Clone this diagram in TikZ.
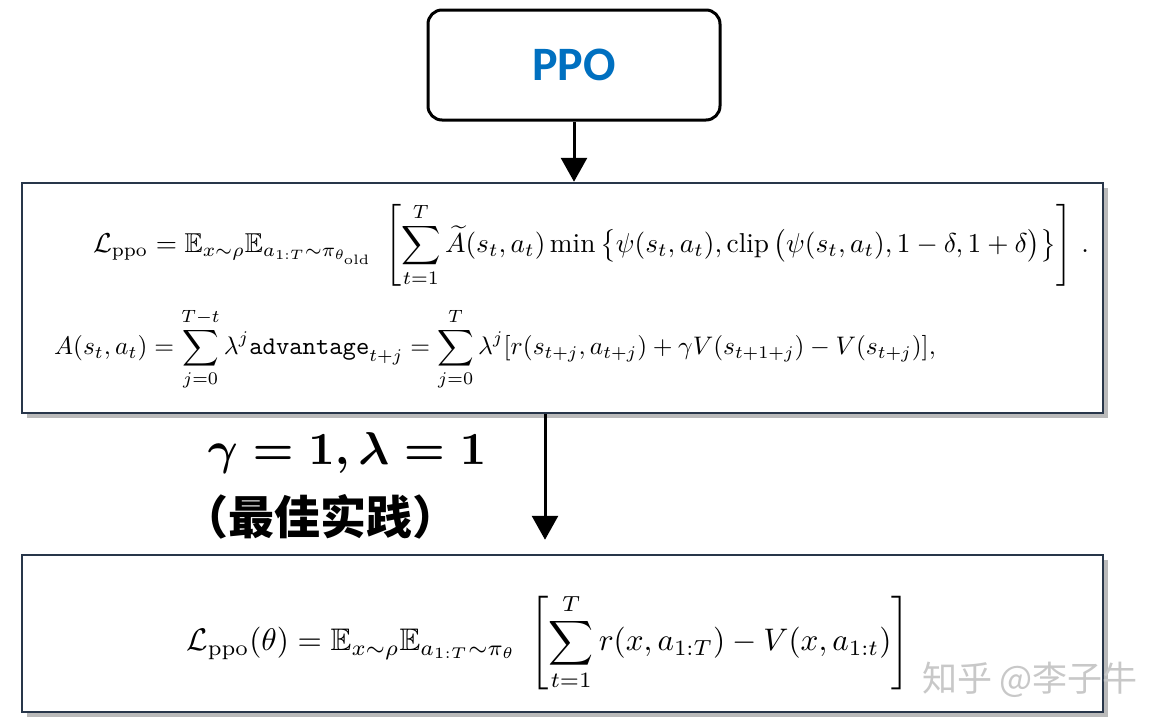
\documentclass[tikz,border=0pt]{standalone}
\usepackage{amsmath}
\usepackage{amssymb}
\usepackage{bm}
\usepackage{graphicx}
\usepackage{fontspec}
\newfontfamily\cjk{Noto Sans CJK SC}
\newfontfamily\ppofont{Carlito}
\usetikzlibrary{arrows.meta}
\usetikzlibrary{shadows}
\usetikzlibrary{positioning}
\definecolor{ppoblue}{RGB}{0,112,192}
\definecolor{boxline}{RGB}{40,54,74}
\definecolor{watermark}{RGB}{200,200,200}

\begin{document}
\begin{tikzpicture}[
            x = 1pt, y = -1pt, % pixel grid, y runs down
            > = {Triangle[width=26pt,length=24pt]}, % arrow head style
            line width = 3pt
        ]

        \tikzset{
            titlebox/.style = {draw = black, fill = white, rounded corners = 14pt,
                minimum width = 292pt, minimum height = 110pt, inner sep = 0pt},
            formulabox/.style = {draw = boxline, line width = 2.5pt, fill = white,
                minimum width = 1081pt, inner sep = 0pt,
                drop shadow = {shadow xshift = 5pt, shadow yshift = -5pt,
                    fill = black!45, opacity = .6}}
        }

        \useasboundingbox (0,0) rectangle (1168,728);

        % boxes
        \node[titlebox] (ppo) at (574,65)
            {\ppofont\bfseries\fontsize{48}{56}\selectfont\color{ppoblue}PPO};
        \node[formulabox, minimum height = 230pt] (loss) at (562.5,298) {};
        \node[formulabox, minimum height = 157pt] (simple) at (562.5,633.5) {};

        % full objective
        \node (lossppo) at (591,245) {\scalebox{2.73}{$\displaystyle
            \mathcal{L}_{\mathrm{ppo}} = \mathbb{E}_{x\sim\rho}\mathbb{E}_{a_{1:T}\sim\pi_{\theta_{\mathrm{old}}}}\;
            \left[\sum_{t=1}^{T}\widetilde{A}(s_t,a_t)\min\,\bigl\{\psi(s_t,a_t),\mathrm{clip}\,\bigl(\psi(s_t,a_t),1-\delta,1+\delta\bigr)\bigr\}\right]\,.$}};
        \node (adv) at (495,349) {\scalebox{2.54}{$\displaystyle
            A(s_t,a_t) = \sum_{j=0}^{T-t}\lambda^j\texttt{advantage}_{t+j} = \sum_{j=0}^{T}\lambda^j[r(s_{t+j},a_{t+j})+\gamma V(s_{t+1+j})-V(s_{t+j})],$}};

        % simplified objective
        \node (lsimple) at (548,642) {\scalebox{3.12}{$\displaystyle
            \mathcal{L}_{\mathrm{ppo}}(\theta) = \mathbb{E}_{x\sim\rho}\mathbb{E}_{a_{1:T}\sim\pi_\theta}\;
            \left[\sum_{t=1}^{T}r(x,a_{1:T})-V(x,a_{1:t})\right]$}};

        % condition
        \node[anchor = west] (gl) at (203,453) {\scalebox{4.6}{\boldmath$\gamma = 1, \lambda = 1$}};
        \node[anchor = west, inner sep = 0pt, font = \cjk\bfseries\fontsize{46}{52}\selectfont] (best) at (181,517) {（最佳实践）};

        \path[->] (ppo) edge (ppo |- loss.north);
        \coordinate (split) at (545,0);
        \draw[->, shorten > = 14pt] (loss.south -| split) -- (simple.north -| split);

        \node[text = watermark, font = \cjk\fontsize{35}{40}\selectfont] (zhihu) at (1030,680) {知乎 @李子牛};

\end{tikzpicture}
\end{document}
